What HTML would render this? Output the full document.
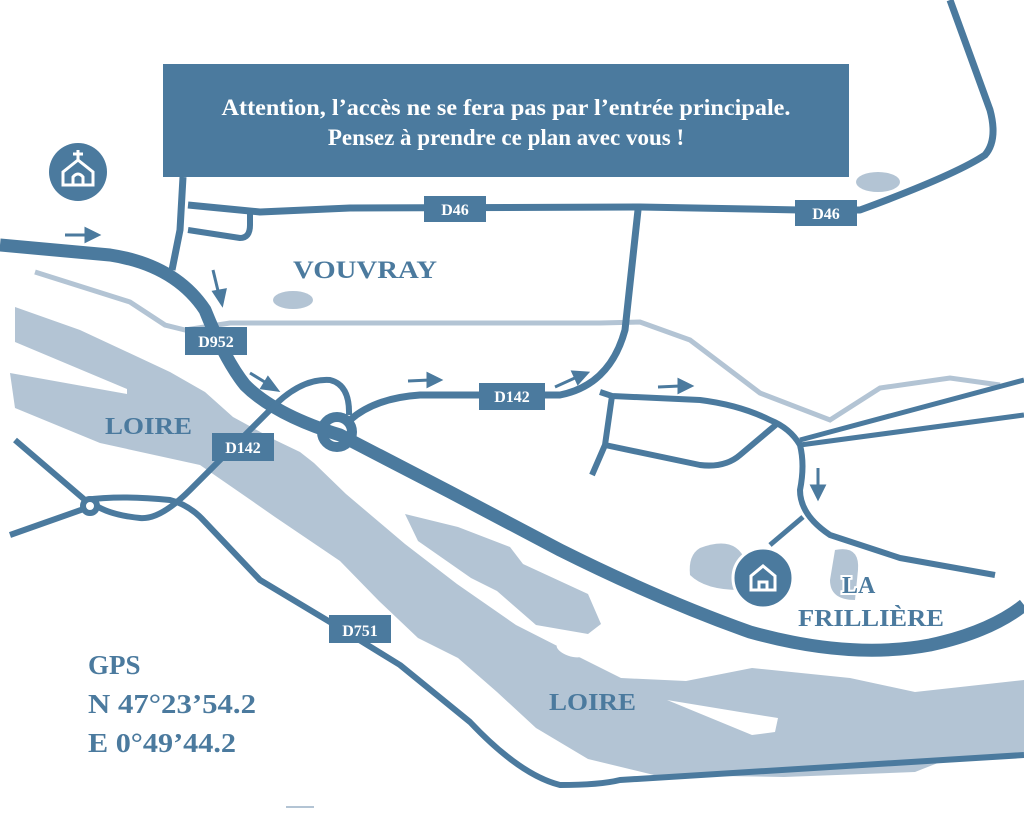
<!DOCTYPE html>
<html><head><meta charset="utf-8"><style>
html,body{margin:0;padding:0;background:#fff;}
svg{display:block;}
.s{font-family:"Liberation Serif",serif;font-weight:bold;}
</style></head><body>
<svg width="1024" height="819" viewBox="0 0 1024 819" xmlns="http://www.w3.org/2000/svg">
<g fill="#b3c4d4">
<path d="M15,307 L80,330 L170,372 L205,392 L233,417 L275,440 L300,452 L314,463 L346,494 L405,544 L457,584 L516,625 L575,655 L621,678 L686,681 L752,668 L850,678 L915,692 L1024,680 L1024,754 L948,759 L915,772 L784,777 L654,775 L588,759 L536,728 L497,692 L458,658 L418,638 L379,601 L340,561 L275,517 L242,494 L200,465 L100,443 L15,408 L10,373 L127,394 L127,389 L15,342 Z"/>
<path d="M405,514 L458,527 L510,547 L523,564 L588,594 L601,624 L588,634 L536,625 L497,591 L471,578 L418,541 Z"/>
<ellipse cx="293" cy="300" rx="20" ry="9"/>
<ellipse cx="878" cy="182" rx="22" ry="10"/>
<path d="M700,548 Q735,535 745,560 L740,590 Q705,590 690,575 Q688,555 700,548Z"/>
<path d="M835,550 Q860,545 858,570 L855,600 Q830,600 830,580Z"/>
</g>
<g fill="#fff">
<ellipse cx="570" cy="650" rx="14" ry="6" transform="rotate(20 570 650)"/>
<path d="M667,700 L740,712 L778,718 L775,732 L752,735 Z"/>
</g>
<path d="M35,272 L130,302 L165,325 L185,330 L230,323 L600,323 L640,322 L690,340 L760,393 L830,420 L880,388 L950,378 L1000,385" fill="none" stroke="#b3c4d4" stroke-width="5"/>
<g fill="none" stroke="#4b7a9e" stroke-linecap="butt" stroke-linejoin="round">
<path d="M0,245 L110,255 Q175,265 205,310 Q225,360 245,385 Q275,415 340,435 L450,492 L560,550 Q660,600 750,632 Q850,660 930,645 Q990,632 1024,605" stroke-width="13"/>
<path d="M188,205 L260,212 L350,208 L640,207 L800,210 L860,210 Q955,175 985,155 Q998,140 990,110 L950,0" stroke-width="7"/>
<path d="M183,177 L180,230 L172,270" stroke-width="7"/>
<path d="M188,230 L240,238 Q250,238 250,225 L250,210" stroke-width="6"/>
<path d="M350,420 Q375,398 420,395 L560,395 Q610,385 625,330 L638,210" stroke-width="7"/>
<path d="M349,415 Q350,385 330,380 Q300,378 270,410 L190,490 Q160,520 140,518 Q110,515 95,505 L10,535" stroke-width="6"/>
<path d="M15,440 L85,500 Q120,495 170,500 Q190,505 205,522 L260,580 L335,625 L400,665 L470,722 Q520,775 560,785 Q600,785 620,780 L1024,755" stroke-width="6"/>
<path d="M600,392 L612,396 L700,400 Q740,405 770,420 Q790,428 800,445 Q805,465 800,490 Q800,515 830,535 L900,558 L995,575" stroke-width="6"/>
<path d="M778,423 L740,455 Q725,468 700,465 L605,445" stroke-width="6"/>
<path d="M612,396 L605,445 L592,475" stroke-width="6"/>
<path d="M800,440 L1024,380 M800,445 L1024,415" stroke-width="5"/>
<path d="M803,517 L770,545" stroke-width="5"/>
<circle cx="337" cy="432" r="15" stroke-width="10"/>
<circle cx="90" cy="506" r="7" stroke-width="6" fill="#fff"/>
</g>
<g fill="#4b7a9e">
<rect x="163" y="64" width="686" height="113"/>
<circle cx="78" cy="172" r="29"/>
<circle cx="763" cy="578" r="30" stroke="#fff" stroke-width="3"/>
<rect x="424" y="196" width="62" height="26"/>
<rect x="795" y="200" width="62" height="26"/>
<rect x="185" y="327" width="62" height="28"/>
<rect x="479" y="383" width="66" height="27"/>
<rect x="212" y="433" width="62" height="28"/>
<rect x="329" y="615" width="62" height="28"/>
</g>
<g fill="none" stroke="#fff" stroke-width="3">
<path d="M63,185 L63,172 L78,160 L93,172 L93,185 Z M73,185 L73,177 Q78,171 83,177 L83,185 M78,160 L78,150 M73,154 L83,154"/>
<path d="M751,590 L751,576 L763,566 L775,576 L775,590 Z M759,590 L759,582 L767,582 L767,590"/>
</g>
<g stroke="#4b7a9e" stroke-width="3" fill="#4b7a9e">
<path d="M65,235 L88,235"/><path d="M98,235 L86,229 L86,241Z"/>
<path d="M213,270 L219,295"/><path d="M222,304 L214,292 L225,290Z"/>
<path d="M250,373 L268,384"/><path d="M277,390 L262,388 L268,378Z"/>
<path d="M408,381 L430,380"/><path d="M440,380 L428,374 L428,386Z"/>
<path d="M555,387 L577,377"/><path d="M587,373 L573,372 L578,383Z"/>
<path d="M658,387 L680,386"/><path d="M691,386 L679,380 L679,392Z"/>
<path d="M818,468 L818,488"/><path d="M818,498 L812,486 L824,486Z"/>
</g>
<g class="s" fill="#fff" text-anchor="middle">
<text x="506" y="115" font-size="23" textLength="569" lengthAdjust="spacingAndGlyphs">Attention, l’accès ne se fera pas par l’entrée principale.</text>
<text x="506" y="145" font-size="23">Pensez à prendre ce plan avec vous !</text>
<text x="455" y="215" font-size="16">D46</text>
<text x="826" y="219" font-size="16">D46</text>
<text x="216" y="347" font-size="16">D952</text>
<text x="512" y="402" font-size="16">D142</text>
<text x="243" y="453" font-size="16">D142</text>
<text x="360" y="636" font-size="16">D751</text>
</g>
<g class="s" fill="#4b7a9e">
<text x="293" y="278" font-size="25" textLength="144" lengthAdjust="spacingAndGlyphs">VOUVRAY</text>
<text x="105" y="434" font-size="24" textLength="87" lengthAdjust="spacingAndGlyphs">LOIRE</text>
<text x="549" y="710" font-size="24" textLength="87" lengthAdjust="spacingAndGlyphs">LOIRE</text>
<text x="842" y="593" font-size="24" stroke="#fff" stroke-width="4" paint-order="stroke">LA</text>
<text x="798" y="626" font-size="24" stroke="#fff" stroke-width="4" paint-order="stroke" textLength="146" lengthAdjust="spacingAndGlyphs">FRILLIÈRE</text>
<text x="88" y="674" font-size="27">GPS</text>
<text x="88" y="713" font-size="27" textLength="168" lengthAdjust="spacingAndGlyphs">N 47°23’54.2</text>
<text x="88" y="752" font-size="27" textLength="148" lengthAdjust="spacingAndGlyphs">E 0°49’44.2</text>
</g>
<rect x="286" y="806" width="28" height="2" fill="#b3c4d4"/>
</svg>
</body></html>
